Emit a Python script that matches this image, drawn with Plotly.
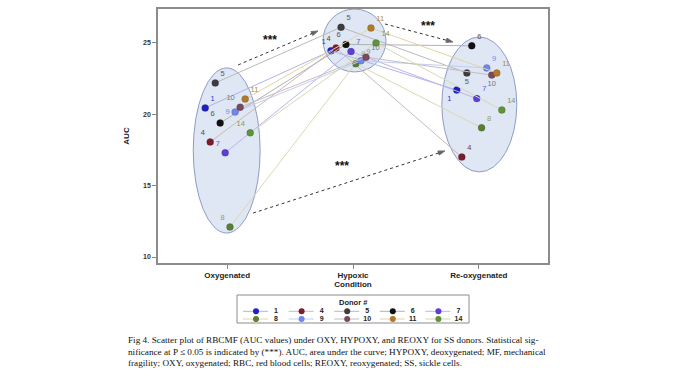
import plotly.graph_objects as go

# ---------------- data ----------------
conditions = ["Oxygenated", "Hypoxic", "Re-oxygenated"]
donors = ["1", "4", "5", "6", "7", "8", "9", "10", "11", "14"]
auc_oxy = [20.45, 18.06, 22.2, 19.39, 17.3, 12.1, 20.16, 20.5, 21.07, 18.7]
auc_hypoxy = [24.45, 24.65, 26.1, 24.9, 24.4, 23.55, 23.75, 24.0, 26.05, 25.0]
auc_reoxy = [21.7, 17.0, 22.9, 24.8, 21.1, 19.05, 23.25, 22.75, 22.9, 20.3]
dodge = [-0.175, -0.135, -0.095, -0.056, -0.016, 0.022, 0.063, 0.103, 0.143, 0.183]

marker_colors = ["#2020c4", "#7b1c2c", "#3d3d3d", "#111111", "#5b3fd6",
                 "#5a7f33", "#6f86ee", "#7a4a5a", "#b07a2a", "#5f9436"]
line_colors = ["#b0b4e6", "#cbb9b2", "#b9b9b9", "#b2b2b2", "#bdb4ec",
               "#dcd8b0", "#c3cdf2", "#c9bcc0", "#e3d3a6", "#d3dbb0"]
label_colors = ["#3535c8", "#6b3a3a", "#5a5a5a", "#555555", "#6a5ad8",
                "#9a9a62", "#7a8ae8", "#777777", "#b08a40", "#8a9a50"]
label_pos = [
    ["top right", "top left", "bottom left"],
    ["top left", "top left", "top right"],
    ["top right", "top right", "bottom center"],
    ["top left", "top left", "top right"],
    ["top left", "top right", "top right"],
    ["top left", "top right", "top right"],
    ["middle left", "top right", "top right"],
    ["top left", "top right", "bottom center"],
    ["top right", "top right", "top right"],
    ["top left", "top right", "top right"],
]
# legend grid: (column, row) for every donor
legend_col = [0, 1, 2, 3, 4, 0, 1, 2, 3, 4]
legend_row = [0, 0, 0, 0, 0, 1, 1, 1, 1, 1]

y_ticks = [10, 15, 20, 25]

# ellipses (data units): x0, x1, y0, y1
ellipse_x0 = [-0.27, 0.762, 1.706]
ellipse_x1 = [0.262, 1.262, 2.302]
ellipse_y0 = [11.68, 22.97, 15.96]
ellipse_y1 = [23.25, 27.38, 25.42]

# significance arrows (data units)
arrow_x0 = [0.087, 1.254, 0.206]
arrow_y0 = [23.46, 26.33, 13.08]
arrow_x1 = [0.722, 1.794, 1.730]
arrow_y1 = [25.84, 25.07, 17.43]
star_x = [0.34, 1.595, 0.913]
star_y = [25.2, 26.19, 16.38]

caption_lines = [
    "Fig 4. Scatter plot of RBCMF (AUC values) under OXY, HYPOXY, and REOXY for SS donors. Statistical sig-",
    "nificance at P \u2264 0.05 is indicated by (***). AUC, area under the curve; HYPOXY, deoxygenated; MF, mechanical",
    "fragility; OXY, oxygenated; RBC, red blood cells; REOXY, reoxygenated; SS, sickle cells.",
]

# ---------------- layout geometry (pixels of the 682x390 page) ----------------
W, H = 682, 390
plot_px = dict(left=158, right=548, top=9, bottom=263)
legend_px = dict(left=237, right=469, top=295, bottom=323)
caption_left = 126
caption_y = [340, 351.7, 363.2]

SANS = "Liberation Sans, Arial, sans-serif"
fig = go.Figure()

for i, d in enumerate(donors):
    xs = [k + dodge[i] for k in range(len(conditions))]
    ys = [auc_oxy[i], auc_hypoxy[i], auc_reoxy[i]]
    fig.add_trace(go.Scatter(
        x=xs, y=ys, mode="lines+markers+text",
        text=[d, d, d], textposition=label_pos[i],
        textfont=dict(family=SANS, size=7.5, color=label_colors[i]),
        line=dict(color=line_colors[i], width=1),
        marker=dict(color=marker_colors[i], size=7,
                    line=dict(color="rgba(0,0,0,0.25)", width=0.5)),
        showlegend=False, hoverinfo="skip", cliponaxis=False,
    ))

# arrows + significance stars
for k in range(len(arrow_x0)):
    fig.add_trace(go.Scatter(
        x=[arrow_x0[k], arrow_x1[k]], y=[arrow_y0[k], arrow_y1[k]],
        mode="lines+markers",
        line=dict(color="#333333", width=1, dash="dot"),
        marker=dict(symbol="arrow", angleref="previous", size=[0, 7],
                    color="#222222"),
        showlegend=False, hoverinfo="skip",
    ))
    fig.add_annotation(x=star_x[k], y=star_y[k], text="<b>***</b>",
                       showarrow=False,
                       font=dict(family=SANS, size=12, color="#111111"))

for k in range(len(ellipse_x0)):
    fig.add_shape(type="circle", xref="x", yref="y",
                  x0=ellipse_x0[k], x1=ellipse_x1[k],
                  y0=ellipse_y0[k], y1=ellipse_y1[k],
                  fillcolor="#dfe6f4", line=dict(color="#8d9dc4", width=1),
                  layer="below")

# ---------------- legend (5 columns x 2 rows, drawn on its own small axes) ----------------
leg_w = legend_px["right"] - legend_px["left"]
leg_h = legend_px["bottom"] - legend_px["top"]
col_step, col_start = 45.6, 19.0
row_y = [16.3, 24.0]
leg_mx, leg_my = [], []
for i, d in enumerate(donors):
    m = col_start + col_step * legend_col[i]
    r = row_y[legend_row[i]]
    leg_mx.append(m)
    leg_my.append(r)
    fig.add_trace(go.Scatter(
        x=[m - 13, m + 12], y=[r, r], xaxis="x2", yaxis="y2",
        mode="lines", line=dict(color=line_colors[i], width=1),
        showlegend=False, hoverinfo="skip",
    ))
    fig.add_trace(go.Scatter(
        x=[m + 20], y=[r], xaxis="x2", yaxis="y2",
        mode="text", text=["<b>%s</b>" % d], textposition="middle center",
        textfont=dict(family=SANS, size=7, color="#222222"),
        showlegend=False, hoverinfo="skip", cliponaxis=False,
    ))
fig.add_trace(go.Scatter(
    x=leg_mx, y=leg_my, xaxis="x2", yaxis="y2", mode="markers",
    marker=dict(color=marker_colors, size=6, opacity=1),
    showlegend=False, hoverinfo="skip", cliponaxis=False,
))
fig.add_shape(type="rect", xref="x2 domain", yref="y2 domain",
              x0=0, x1=1, y0=0, y1=1,
              line=dict(color="#8c8c8c", width=1), fillcolor="rgba(0,0,0,0)")
fig.add_annotation(xref="x2 domain", yref="y2", x=0.5, y=7.3,
                   text="<b>Donor #</b>", showarrow=False,
                   font=dict(family=SANS, size=7.5, color="#222222"))

# ---------------- caption ----------------
for line, yy in zip(caption_lines, caption_y):
    fig.add_annotation(xref="paper", yref="paper", x=caption_left / W,
                       y=1 - yy / H, xanchor="left", yanchor="middle",
                       text=line, showarrow=False, align="left",
                       font=dict(family="Liberation Serif, Times New Roman, serif",
                                 size=9.2, color="#111111"))

fig.update_layout(
    width=W, height=H,
    margin=dict(l=0, r=0, t=0, b=0),
    paper_bgcolor="white", plot_bgcolor="rgba(0,0,0,0)",
    font=dict(family=SANS, color="#222222"),
    showlegend=False,
    xaxis=dict(
        domain=[plot_px["left"] / W, plot_px["right"] / W],
        range=[-0.55, 2.55], tickvals=[0, 1, 2],
        ticktext=["<b>%s</b>" % c for c in conditions],
        tickfont=dict(size=8, color="#222222"),
        ticks="outside", ticklen=4, tickcolor="#888888",
        showline=True, linecolor="#8c8c8c", linewidth=1.5, mirror=True,
        showgrid=False, zeroline=False, automargin=False,
        title=dict(text="<b>Condition</b>", font=dict(size=8, color="#222222"),
                   standoff=0),
    ),
    yaxis=dict(
        domain=[1 - plot_px["bottom"] / H, 1 - plot_px["top"] / H],
        range=[9.58, 27.38], tickvals=y_ticks,
        ticktext=["<b>%d</b>" % v for v in y_ticks],
        tickfont=dict(size=7, color="#333333"),
        ticks="outside", ticklen=4, tickcolor="#888888",
        showline=True, linecolor="#8c8c8c", linewidth=1.5, mirror=True,
        showgrid=False, zeroline=False, automargin=False,
        title=dict(text="<b>AUC</b>", font=dict(size=8, color="#222222"),
                   standoff=12),
    ),
    xaxis2=dict(
        domain=[legend_px["left"] / W, legend_px["right"] / W],
        range=[0, leg_w], visible=False, fixedrange=True,
    ),
    yaxis2=dict(
        domain=[1 - legend_px["bottom"] / H, 1 - legend_px["top"] / H],
        range=[leg_h, 0], visible=False, fixedrange=True,
    ),
)

fig.write_html("out.html", config={"displayModeBar": False},
               post_script="document.body.style.margin='0px';")
